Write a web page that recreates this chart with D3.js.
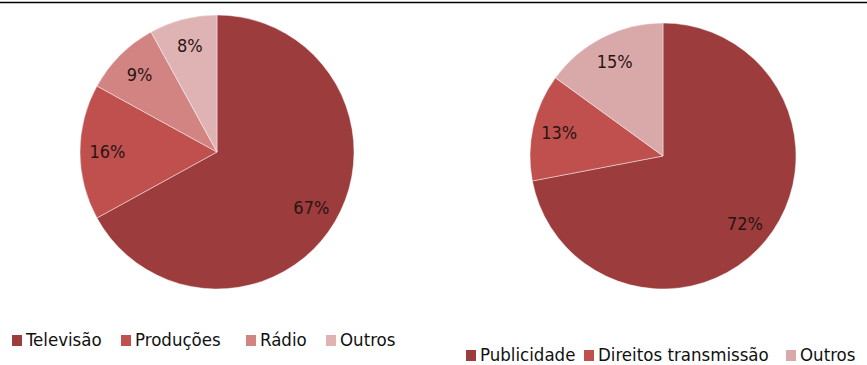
<!DOCTYPE html>
<html>
<head>
<meta charset="utf-8">
<script src="https://cdn.jsdelivr.net/npm/d3@7"></script>
<style>
  body { margin:0; background:#fff; }
  svg { display:block; }
  text { font-family:"DejaVu Sans Condensed","DejaVu Sans",sans-serif; font-stretch:condensed; }
</style>
</head>
<body>
<div id="chart"></div>
<script>
// left pie
var catsA = ["Televisão","Produções","Rádio","Outros"]
var valsA = [67,16,9,8]
var colsA = ["#9c3c3c","#c0504e","#d28482","#dfb3b3"]

// right pie
var catsB = ["Publicidade","Direitos transmissão","Outros"]
var valsB = [72,13,15]
var colsB = ["#9c3c3c","#c0504e","#d9a9a9"]

var W = 867, H = 365

var svg = d3.select("#chart").append("svg")
  .attr("width",W).attr("height",H)

svg.append("line")
  .attr("x1",0).attr("x2",W).attr("y1",2.5).attr("y2",2.5)
  .style("stroke","#000").style("stroke-width",1.3)

function drawPie(cats,vals,cols,opt){
  var data = cats.map((c,i)=>({cat:c,v:vals[i],col:cols[i]}))
  var pie = d3.pie().value(d=>d.v).sort(null)
  var arc = d3.arc().innerRadius(0).outerRadius(opt.r)
  var labelArc = d3.arc().innerRadius(opt.r*opt.lab).outerRadius(opt.r*opt.lab)

  var g = svg.append("g").attr("transform","translate("+opt.cx+","+opt.cy+")")
  var slices = g.selectAll("g.slice").data(pie(data)).enter().append("g").classed("slice",true)
  slices.append("path").attr("d",arc)
    .style("fill",d=>d.data.col)
    .style("stroke","#fff").style("stroke-opacity",0.55).style("stroke-width",0.8)
  slices.append("text")
    .attr("transform",d=>"translate("+labelArc.centroid(d)+")")
    .attr("text-anchor","middle").attr("dy","0.36em")
    .style("font-size","18px").style("fill","#2a1414")
    .text(d=>d.data.v+"%")

  // legend
  var lg = svg.append("g").attr("transform","translate(0,"+opt.ly+")")
  var items = lg.selectAll("g").data(data).enter().append("g")
    .attr("transform",(d,i)=>"translate("+opt.lx[i]+",0)")
  items.append("rect").attr("x",0).attr("y",-11).attr("width",10).attr("height",11)
    .style("fill",d=>d.col)
  items.append("text").attr("x",14).attr("y",0)
    .style("font-size","18.5px").style("fill","#111")
    .text(d=>d.cat)
}

drawPie(catsA,valsA,colsA,{cx:217,cy:152,r:137,lab:0.8,ly:346,lx:[12,121,246,326]})
drawPie(catsB,valsB,colsB,{cx:663,cy:156,r:133,lab:0.8,ly:361,lx:[466,584,786]})
</script>
</body>
</html>
